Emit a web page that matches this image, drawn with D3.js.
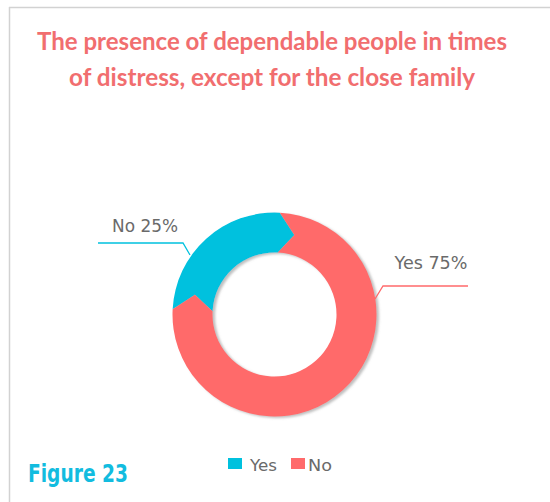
<!DOCTYPE html>
<html>
<head>
<meta charset="utf-8">
<script src="https://cdn.jsdelivr.net/npm/d3@7/dist/d3.min.js"></script>
<style>
  html, body { margin: 0; padding: 0; background: #fff; }
  svg { display: block; }
</style>
</head>
<body>
<script>
// Survey answers shown in the ring
const categories = ["Yes", "No"];
const values = [25, 75];
const sliceLabels = ["No 25%", "Yes 75%"];
const titleLines = ["The presence of dependable people in times", "of distress, except for the close family"];
const figureLabel = "Figure 23";

const W = 550, H = 502;
const colors = d3.scaleOrdinal().domain(categories).range(["#00C1DE", "#FF6A6B"]);

const svg = d3.select("body").append("svg").attr("width", W).attr("height", H);

// soft drop shadow under the ring
const defs = svg.append("defs");
const f = defs.append("filter").attr("id", "ringShadow")
  .attr("x", "-20%").attr("y", "-20%").attr("width", "140%").attr("height", "140%");
f.append("feDropShadow").attr("dx", 2.5).attr("dy", 1.5).attr("stdDeviation", 1.2)
  .attr("flood-color", "#8a8a8a").attr("flood-opacity", 0.55);

// frame: top and left rule
svg.append("line").attr("x1", 9).attr("y1", 7.5).attr("x2", W).attr("y2", 7.5)
  .attr("stroke", "#d2d2d2").attr("stroke-width", 1.5);
svg.append("line").attr("x1", 9.5).attr("y1", 7).attr("x2", 9.5).attr("y2", H)
  .attr("stroke", "#d2d2d2").attr("stroke-width", 1.5);

// title
const titleWidths = [470, 406];
svg.append("g").selectAll("text").data(titleLines).join("text")
  .attr("x", 272).attr("y", (d, i) => 50 + i * 36)
  .attr("text-anchor", "middle")
  .attr("textLength", (d, i) => titleWidths[i])
  .attr("lengthAdjust", "spacingAndGlyphs")
  .attr("font-family", "Lato, 'Open Sans', sans-serif")
  .attr("font-weight", 700).attr("font-size", 25)
  .attr("fill", "#F16E6F")
  .text(d => d);

// ring geometry
const cx = 274.5, cy = 314.5, R = 102, r = 62;
const tip = 11 * Math.PI / 180;   // chevron point angle at each slice boundary
const rm = (R + r) / 2;

const pie = d3.pie().sort(null).value(d => d)
  .startAngle(-87 * Math.PI / 180).endAngle(273 * Math.PI / 180);
const arcs = pie(values);

// chevron slice: indented start, pointed end (clockwise)
function chevron(d) {
  const a0 = d.startAngle, a1 = d.endAngle;
  const p = d3.path();
  const pt = (rad, a) => [rad * Math.sin(a), -rad * Math.cos(a)];
  const o0 = pt(R, a0);
  p.moveTo(o0[0], o0[1]);
  p.arc(0, 0, R, a0 - Math.PI / 2, a1 - Math.PI / 2, false);
  const t1 = pt(rm, a1 + tip); p.lineTo(t1[0], t1[1]);
  const i1 = pt(r, a1); p.lineTo(i1[0], i1[1]);
  p.arc(0, 0, r, a1 - Math.PI / 2, a0 - Math.PI / 2, true);
  const t0 = pt(rm, a0 + tip); p.lineTo(t0[0], t0[1]);
  p.closePath();
  return p.toString();
}

const ring = svg.append("g").attr("transform", `translate(${cx},${cy})`)
  .attr("filter", "url(#ringShadow)");
ring.selectAll("path").data(arcs).join("path")
  .attr("d", chevron)
  .attr("fill", (d, i) => colors(categories[i]));

// callout labels with leader lines
const callouts = [
  { text: sliceLabels[0], color: colors(categories[0]), tx: 145, ty: 232, tw: 66,
    pts: [[98, 243], [183, 243], [190, 255]] },
  { text: sliceLabels[1], color: colors(categories[1]), tx: 431, ty: 269, tw: 73,
    pts: [[468, 286], [383, 286], [375, 299]] }
];
const cg = svg.append("g");
cg.selectAll("polyline").data(callouts).join("polyline")
  .attr("points", d => d.pts.map(p => p.join(",")).join(" "))
  .attr("fill", "none").attr("stroke", d => d.color).attr("stroke-width", 1.3);
cg.selectAll("text").data(callouts).join("text")
  .attr("x", d => d.tx).attr("y", d => d.ty)
  .attr("text-anchor", "middle")
  .attr("textLength", d => d.tw).attr("lengthAdjust", "spacingAndGlyphs")
  .attr("font-family", "'DejaVu Sans', Lato, sans-serif")
  .attr("font-size", 18).attr("fill", "#6a6a6a")
  .text(d => d.text);

// legend
const legend = svg.append("g");
const legendX = [228, 291];
const legendTW = [27, 24];
categories.forEach((c, i) => {
  legend.append("rect").attr("x", legendX[i]).attr("y", 458)
    .attr("width", 14).attr("height", 11).attr("fill", colors(c));
  legend.append("text").attr("x", legendX[i] + 22 - (i ? 5 : 0)).attr("y", 470.5)
    .attr("textLength", legendTW[i]).attr("lengthAdjust", "spacingAndGlyphs")
    .attr("font-family", "'DejaVu Sans', Lato, sans-serif")
    .attr("font-size", 15.5).attr("fill", "#6a6a6a")
    .text(c);
});

// figure number
svg.append("text").attr("x", 28).attr("y", 482)
  .attr("textLength", 100).attr("lengthAdjust", "spacingAndGlyphs")
  .attr("font-family", "'DejaVu Sans', Lato, sans-serif")
  .attr("font-weight", 700).attr("font-size", 24)
  .attr("fill", "#12BCDF")
  .text(figureLabel);
</script>
</body>
</html>
